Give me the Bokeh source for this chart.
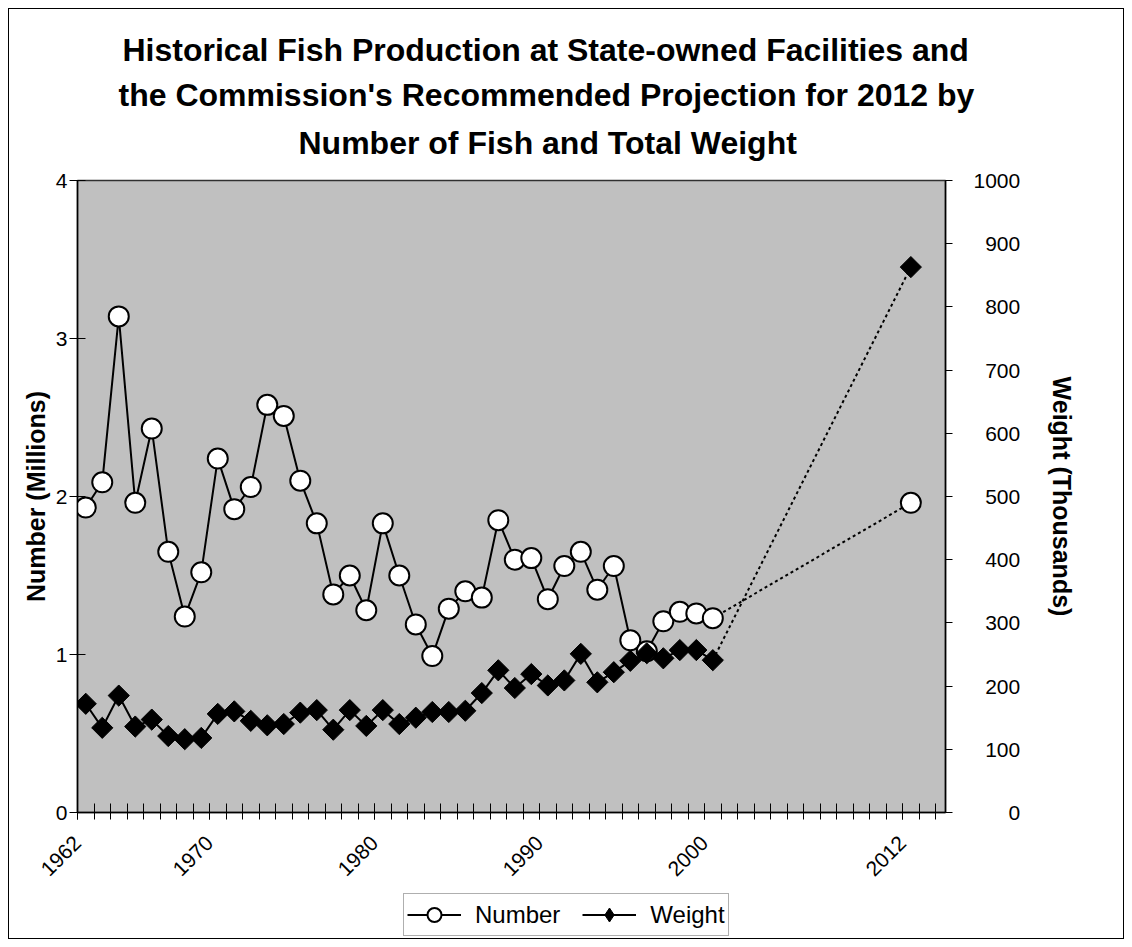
import math
from bokeh.plotting import figure
from bokeh.layouts import column
from bokeh.models import (Range1d, LinearAxis, FixedTicker, Title, Legend, LegendItem)
from bokeh.embed import file_html
from bokeh.resources import INLINE

# ---- data ----
years = list(range(1962, 2001))
number_millions = [1.93, 2.09, 3.14, 1.96, 2.43, 1.65, 1.24, 1.52, 2.24, 1.92,
                   2.06, 2.58, 2.51, 2.10, 1.83, 1.38, 1.50, 1.28, 1.83, 1.50,
                   1.19, 0.99, 1.29, 1.40, 1.36, 1.85, 1.60, 1.61, 1.35, 1.56,
                   1.65, 1.41, 1.56, 1.09, 1.02, 1.21, 1.27, 1.26, 1.23]
weight_thousands = [172, 134, 185, 136, 147, 121, 116, 118, 156, 160,
                    145, 138, 140, 158, 162, 131, 162, 137, 162, 140,
                    150, 159, 159, 161, 189, 225, 197, 219, 201, 209,
                    251, 206, 222, 240, 252, 244, 257, 257, 241]
proj_years = [2000, 2012]
proj_number = [1.23, 1.96]
proj_weight = [241, 863]
label_years = [1962, 1970, 1980, 1990, 2000, 2012]
left_ticks = [0, 1, 2, 3, 4]
right_ticks = [0, 100, 200, 300, 400, 500, 600, 700, 800, 900, 1000]
title_lines = ["Historical Fish Production at State-owned Facilities and",
               "the Commission's Recommended Projection for 2012 by",
               "Number of Fish and Total Weight"]

FONT = "Liberation Sans"

xs = [y + 0.5 for y in years]
pxs = [y + 0.5 for y in proj_years]

W = 1114
H_MAIN = 883
H_LEG = 46

p = figure(width=W, height=H_MAIN, x_range=Range1d(1962, 2014.6), y_range=Range1d(0, 4),
           output_backend="svg", toolbar_location=None,
           min_border_left=68, min_border_right=178, min_border_top=171, min_border_bottom=80,
           background_fill_color="#C0C0C0", border_fill_color="white")
p.xgrid.visible = False
p.ygrid.visible = False
p.outline_line_color = "#303030"
p.outline_line_width = 1.5

p.extra_y_ranges = {"w": Range1d(0, 1000)}

# titles (first added is nearest the frame)
for txt, so, off in [(title_lines[2], 40, 221),
                     (title_lines[1], -20, 41),
                     (title_lines[0], 34, 45)]:
    p.add_layout(Title(text=txt, align="left", offset=off, standoff=so,
                       text_font=FONT, text_font_size="32px", text_font_style="bold",
                       text_color="black"), "above")

# x axis
xa = p.xaxis[0]
xa.ticker = FixedTicker(ticks=label_years, minor_ticks=list(range(1962, 2015)))
xa.major_label_overrides = {y: str(y) for y in label_years}
xa.major_label_orientation = math.pi / 4
xa.major_tick_in = 9
xa.major_tick_out = 7
xa.minor_tick_in = 9
xa.minor_tick_out = 7
xa.major_label_text_font = FONT
xa.major_label_text_font_size = "21px"
xa.major_label_text_color = "black"
xa.major_label_standoff = 20
xa.axis_line_width = 1.5
xa.axis_line_color = "black"
xa.major_tick_line_color = "black"
xa.minor_tick_line_color = "black"

# left axis
ya = p.yaxis[0]
ya.ticker = FixedTicker(ticks=left_ticks)
ya.minor_tick_line_color = None
ya.major_tick_in = 8
ya.major_tick_out = 8
ya.major_label_text_font = FONT
ya.major_label_text_font_size = "21px"
ya.major_label_text_color = "black"
ya.major_label_standoff = 2
ya.axis_label = "Number (Millions)"
ya.axis_label_text_font = FONT
ya.axis_label_text_font_size = "25px"
ya.axis_label_text_font_style = "bold"
ya.axis_label_text_color = "black"
ya.axis_label_standoff = 3
ya.axis_line_width = 1.5
ya.axis_line_color = "black"

# right axis (labels padded with figure spaces to right-align them)
ra = LinearAxis(y_range_name="w", ticker=FixedTicker(ticks=right_ticks))
ra.major_label_overrides = {t: "\u2007" * (4 - len(str(t))) + str(t) for t in right_ticks}
ra.minor_tick_line_color = None
ra.major_tick_in = 0
ra.major_tick_out = 7
ra.major_label_text_font = FONT
ra.major_label_text_font_size = "21px"
ra.major_label_text_color = "black"
ra.major_label_standoff = 21
ra.axis_label = "Weight (Thousands)"
ra.axis_label_text_font = FONT
ra.axis_label_text_font_size = "25px"
ra.axis_label_text_font_style = "bold"
ra.axis_label_text_color = "black"
ra.axis_label_standoff = 25
ra.axis_line_width = 1.5
ra.axis_line_color = "black"
p.add_layout(ra, "right")


def draw_series(fig, weight_marker="square", weight_angle=math.pi / 4, weight_size=15):
    nl = fig.line(xs, number_millions, line_color="black", line_width=2)
    ns = fig.scatter(xs, number_millions, marker="circle", size=20, fill_color="white",
                     line_color="black", line_width=2)
    wl = fig.line(xs, weight_thousands, line_color="black", line_width=2, y_range_name="w")
    ws = fig.scatter(xs, weight_thousands, marker=weight_marker, angle=weight_angle,
                     size=weight_size, fill_color="black", line_color="black", line_width=1,
                     y_range_name="w")
    return nl, ns, wl, ws


# projection lines
p.line(pxs, proj_number, line_color="black", line_width=2, line_dash="3 3")
p.line(pxs, proj_weight, line_color="black", line_width=2, line_dash="3 3", y_range_name="w")
p.scatter([pxs[1]], [proj_number[1]], marker="circle", size=20, fill_color="white",
          line_color="black", line_width=2)
draw_series(p)
p.scatter([pxs[1]], [proj_weight[1]], marker="square", angle=math.pi / 4, size=15,
          fill_color="black", line_color="black", line_width=1, y_range_name="w")

# legend strip (a frameless figure below; its series lie outside its ranges)
q = figure(width=W, height=H_LEG, x_range=Range1d(0, 1), y_range=Range1d(0, 1),
           x_axis_type=None, y_axis_type=None, output_backend="svg", toolbar_location=None,
           min_border=0, background_fill_color="white", border_fill_color="white")
q.outline_line_color = None
q.xgrid.visible = False
q.ygrid.visible = False
q.extra_y_ranges = {"w": Range1d(0, 1)}
qnl, qns, qwl, qws = draw_series(q, weight_marker="diamond", weight_angle=0, weight_size=20)

legend = Legend(items=[LegendItem(label="Number", renderers=[qnl, qns]),
                       LegendItem(label="Weight", renderers=[qwl, qws])],
                orientation="horizontal", location=(326, 2),
                label_text_font=FONT, label_text_font_size="24px", label_text_color="black",
                glyph_width=54, glyph_height=35, spacing=22, padding=3, margin=0,
                label_standoff=14, border_line_color="#606060", border_line_width=1.5,
                background_fill_color="white", background_fill_alpha=1)
q.add_layout(legend, "center")

layout = column(p, q, spacing=0,
                styles={"margin-left": "8px", "margin-top": "8px", "border": "1px solid black"})

open("out.html", "w").write(file_html(layout, INLINE))
